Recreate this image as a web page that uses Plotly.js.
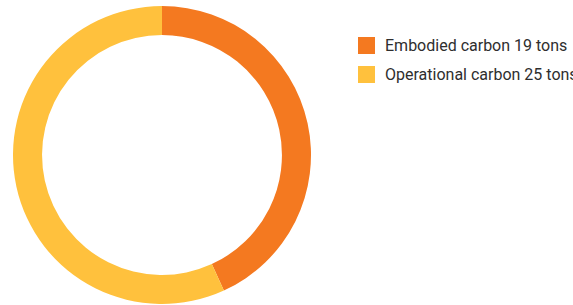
<!DOCTYPE html>
<html><head><meta charset="utf-8">
<script src="https://cdn.plot.ly/plotly-3.0.1.min.js"></script>
<style>html,body{margin:0;padding:0;background:#fff;overflow:hidden}#chart{width:573px;height:305px}</style>
</head><body><div id="chart"></div>
<script>
const categories = ["Embodied carbon", "Operational carbon"];
const values = [19, 25];
const units = ["tons", "tons"];
const colors = ["#F47920", "#FFC13D"];

const W = 573, H = 305;
const legendX = 358, legendY0 = 37, legendStep = 29, sq = 17;

const shapes = [], annotations = [];
categories.forEach((c, i) => {
  const top = legendY0 + i * legendStep;
  shapes.push({type: "rect", xref: "paper", yref: "paper",
    x0: legendX / W, x1: (legendX + sq) / W,
    y0: 1 - (top + sq) / H, y1: 1 - top / H,
    fillcolor: colors[i], line: {width: 0}});
  annotations.push({xref: "paper", yref: "paper", x: (legendX + sq + 8) / W, y: 1 - (top + sq / 2) / H,
    xanchor: "left", yanchor: "middle", showarrow: false,
    text: c + " " + values[i] + " " + units[i],
    font: {family: "Roboto, sans-serif", size: 16, color: "#2e2e2e"}});
});

Plotly.newPlot("chart", [{
  type: "pie", labels: categories, values: values, hole: 0.805,
  sort: false, direction: "clockwise", rotation: 0,
  marker: {colors: colors, line: {width: 0}},
  textinfo: "none", hoverinfo: "none", showlegend: false,
  domain: {x: [13 / W, 311 / W], y: [1 / H, 299 / H]}
}], {
  width: W, height: H, margin: {l: 0, r: 0, t: 0, b: 0},
  paper_bgcolor: "#fff", plot_bgcolor: "#fff", showlegend: false,
  shapes: shapes, annotations: annotations
}, {staticPlot: true, displayModeBar: false});
</script></body></html>
